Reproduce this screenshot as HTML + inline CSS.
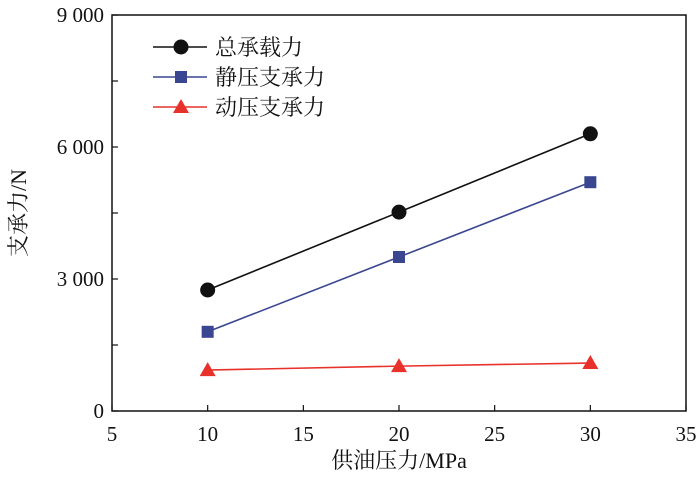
<!DOCTYPE html>
<html><head><meta charset="utf-8"><style>
body{margin:0;background:#fff}
svg text{font-family:"Liberation Serif","Noto Serif CJK SC",serif;fill:#111}
</style></head><body>
<svg width="700" height="483" xmlns="http://www.w3.org/2000/svg">
<g id="g"></g>
</svg>
<script>
const xCats=[10,20,30];
const totalVals=[2750,4520,6300];
const staticVals=[1800,3500,5200];
const dynVals=[930,1020,1090];
const xTicks=[5,10,15,20,25,30,35];
const yTicks=[0,3000,6000,9000];
const yTickLabels=["0","3 000","6 000","9 000"];
const L=112,R=686,T=15,B=411;
const X=v=>L+(v-5)/30*(R-L);
const Y=v=>B-v/9000*(B-T);
const NS="http://www.w3.org/2000/svg";
const g=document.getElementById('g');
function el(t,a,p){const e=document.createElementNS(NS,t);for(const k in a)e.setAttribute(k,a[k]);(p||g).appendChild(e);return e;}
const frame=el('rect',{x:L,y:T,width:R-L,height:B-T,fill:'none',stroke:'#111','stroke-width':1.5});


xTicks.forEach(v=>{
 const t=el('line',{x1:X(v),x2:X(v),y1:B,y2:B-6,stroke:'#111','stroke-width':1.2});
 
 
 const s=el('text',{x:X(v),y:B+30,'text-anchor':'middle','font-size':21});s.textContent=v;
 
 
});
for(let v=0;v<=9000;v+=1500){
 const t=el('line',{x1:L,x2:L+6,y1:Y(v),y2:Y(v),stroke:'#111','stroke-width':1.2});
 
 
}
yTicks.forEach((v,i)=>{
 const s=el('text',{x:L-8,y:Y(v)+7,'text-anchor':'end','font-size':21});s.textContent=yTickLabels[i];
 
 
});
const xt=el('text',{x:399,y:468,'text-anchor':'middle','font-size':22});xt.textContent='供油压力/MPa';


const yt=el('text',{x:0,y:0,'text-anchor':'middle','font-size':22,transform:'translate(26,213) rotate(-90)'});yt.textContent='支承力/N';


function marker(type,x,y,c,parent){
 if(type==='c')return el('circle',{cx:x,cy:y,r:7.5,fill:c},parent);
 if(type==='s')return el('rect',{x:x-6,y:y-6,width:12,height:12,fill:c},parent);
 return el('polygon',{points:`${x-8},${y+6} ${x+8},${y+6} ${x},${y-8}`,fill:c},parent);
}
const series=[[totalVals,'#111','c','total-series','总承载力'],[staticVals,'#3a4690','s','static-series','静压支承力'],[dynVals,'#e8312a','t','dynamic-series','动压支承力']];
series.forEach(([vals,c,m,name,label],si)=>{
 const sg=el('g',{});
 
 
 el('polyline',{points:vals.map((v,i)=>X(xCats[i])+','+Y(v)).join(' '),fill:'none',stroke:c,'stroke-width':1.6},sg);
 vals.forEach((v,i)=>{const mk=marker(m,X(xCats[i]),Y(v),c,sg);
  
  });
 const ly=47+si*30;
 const lg=el('g',{});
 
 
 el('line',{x1:153,x2:207,y1:ly,y2:ly,stroke:c,'stroke-width':1.6},lg);
 marker(m,181,ly,c,lg);
 const tx=el('text',{x:215,y:ly+8,'font-size':22},lg);tx.textContent=label;
});
</script>
</body></html>
